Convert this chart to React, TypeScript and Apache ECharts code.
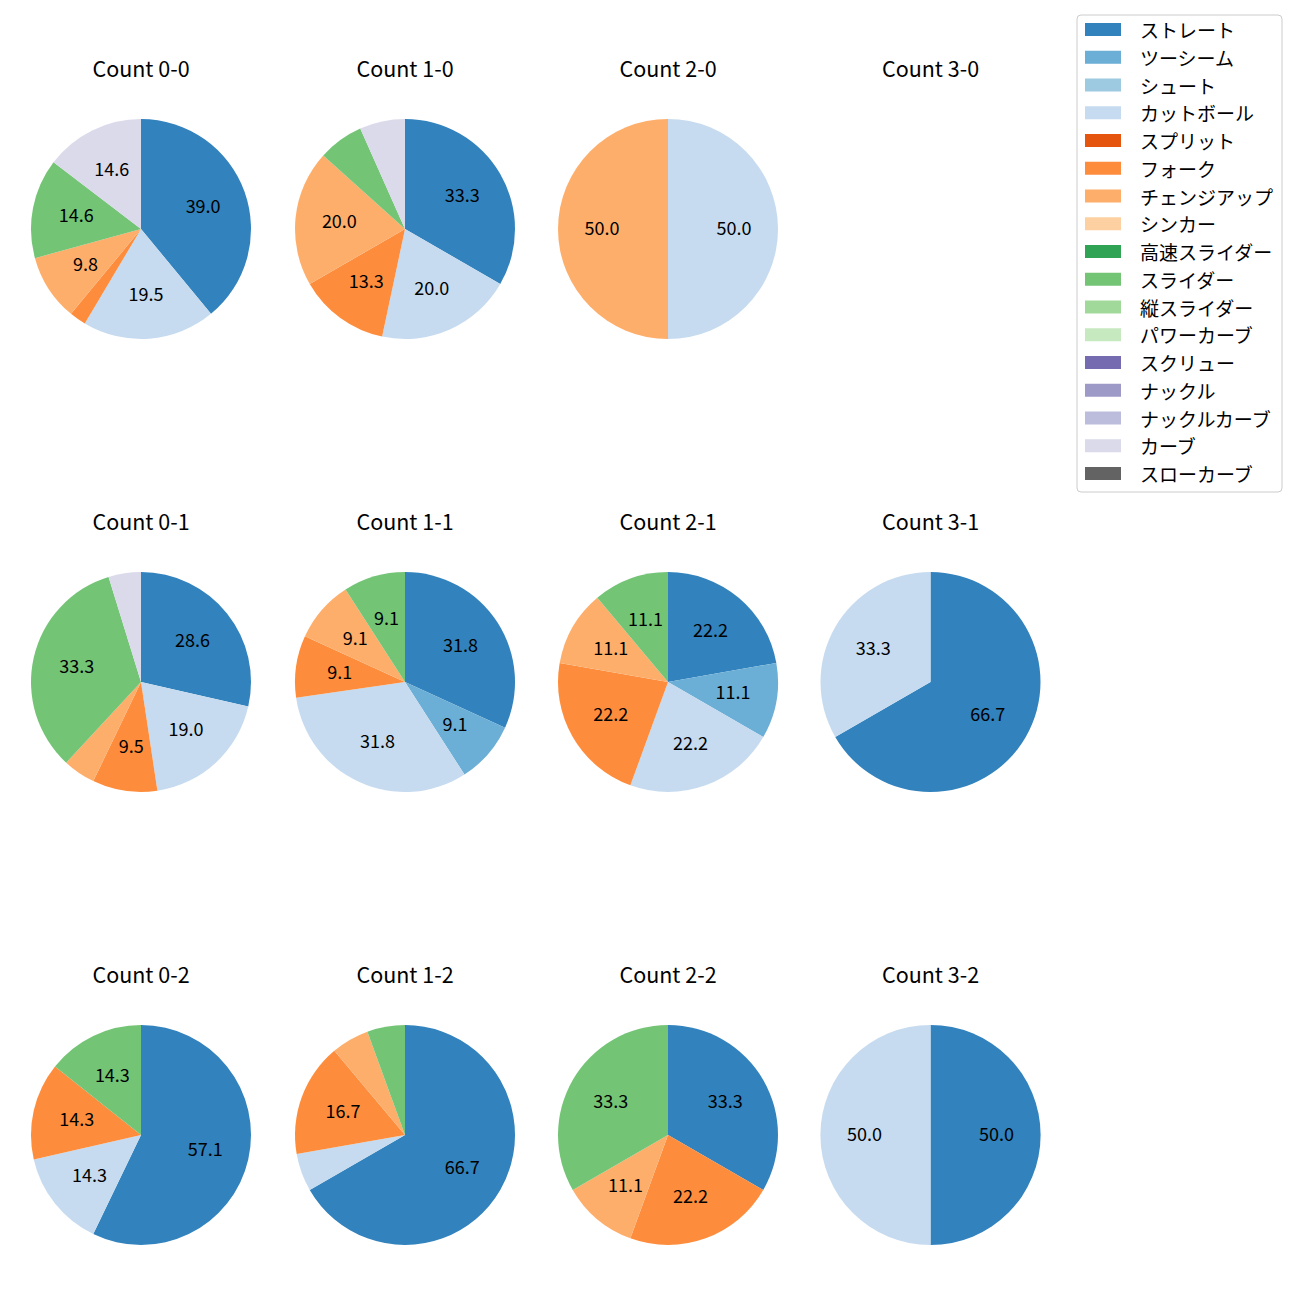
import React, { useEffect, useRef } from "react";
import * as echarts from "echarts";

const FONT = '"Noto Sans CJK JP", "Noto Sans", sans-serif';

const pitchTypes = [
  "ストレート", "ツーシーム", "シュート", "カットボール", "スプリット", "フォーク",
  "チェンジアップ", "シンカー", "高速スライダー", "スライダー", "縦スライダー",
  "パワーカーブ", "スクリュー", "ナックル", "ナックルカーブ", "カーブ", "スローカーブ",
];
const pitchColors = [
  "#3182bd", "#6baed6", "#9ecae1", "#c6dbef", "#e6550d", "#fd8d3c",
  "#fdae6b", "#fdd0a2", "#31a354", "#74c476", "#a1d99b",
  "#c7e9c0", "#756bb1", "#9e9ac8", "#bcbddc", "#dadaeb", "#636363",
];

const countTitles = [
  "Count 0-0", "Count 1-0", "Count 2-0", "Count 3-0",
  "Count 0-1", "Count 1-1", "Count 2-1", "Count 3-1",
  "Count 0-2", "Count 1-2", "Count 2-2", "Count 3-2",
];

// pitch counts per situation, aligned with pitchTypes
const count00 = [16, 0, 0, 8, 0, 1, 4, 0, 0, 6, 0, 0, 0, 0, 0, 6, 0];
const count10 = [5, 0, 0, 3, 0, 2, 3, 0, 0, 1, 0, 0, 0, 0, 0, 1, 0];
const count20 = [0, 0, 0, 1, 0, 0, 1, 0, 0, 0, 0, 0, 0, 0, 0, 0, 0];
const count30 = [0, 0, 0, 0, 0, 0, 0, 0, 0, 0, 0, 0, 0, 0, 0, 0, 0];
const count01 = [6, 0, 0, 4, 0, 2, 1, 0, 0, 7, 0, 0, 0, 0, 0, 1, 0];
const count11 = [7, 2, 0, 7, 0, 2, 2, 0, 0, 2, 0, 0, 0, 0, 0, 0, 0];
const count21 = [2, 1, 0, 2, 0, 2, 1, 0, 0, 1, 0, 0, 0, 0, 0, 0, 0];
const count31 = [2, 0, 0, 1, 0, 0, 0, 0, 0, 0, 0, 0, 0, 0, 0, 0, 0];
const count02 = [4, 0, 0, 1, 0, 1, 0, 0, 0, 1, 0, 0, 0, 0, 0, 0, 0];
const count12 = [12, 0, 0, 1, 0, 3, 1, 0, 0, 1, 0, 0, 0, 0, 0, 0, 0];
const count22 = [3, 0, 0, 0, 0, 2, 1, 0, 0, 3, 0, 0, 0, 0, 0, 0, 0];
const count32 = [1, 0, 0, 1, 0, 0, 0, 0, 0, 0, 0, 0, 0, 0, 0, 0, 0];

const allCounts = [
  count00, count10, count20, count30,
  count01, count11, count21, count31,
  count02, count12, count22, count32,
];

const colX = [141, 405, 668, 930.5];
const rowY = [229, 682, 1135];
const R = 110;

export default function App() {
  const ref = useRef<HTMLDivElement>(null);
  useEffect(() => {
    if (!ref.current) return;
    const chart = echarts.init(ref.current, undefined, { renderer: "svg" });
    const series: any[] = [
      {
        type: "pie",
        name: "legendSource",
        radius: 0,
        center: [-200, -200],
        silent: true,
        label: { show: false },
        labelLine: { show: false },
        data: pitchTypes.map((n, i) => ({ name: n, value: 1, itemStyle: { color: pitchColors[i] } })),
      },
    ];
    allCounts.forEach((vals, k) => {
      const total = vals.reduce((a, b) => a + b, 0);
      if (total === 0) return;
      const row = Math.floor(k / 4);
      const col = k % 4;
      const data = pitchTypes
        .map((n, i) => ({ name: n, value: vals[i], itemStyle: { color: pitchColors[i] } }))
        .filter((d) => d.value > 0);
      series.push({
        type: "pie",
        center: [colX[col], rowY[row]],
        radius: R,
        startAngle: 90,
        clockwise: true,
        silent: true,
        avoidLabelOverlap: false,
        label: { show: false },
        labelLine: { show: false },
        emphasis: { disabled: true },
        data,
      });
      series.push({
        type: "pie",
        center: [colX[col], rowY[row]],
        radius: [16, R],
        startAngle: 90,
        clockwise: true,
        silent: true,
        avoidLabelOverlap: false,
        itemStyle: { color: "transparent" },
        labelLine: { show: false },
        emphasis: { disabled: true },
        labelLayout: { dy: -2 },
        label: {
          show: true,
          position: "inside",
          color: "#000",
          fontSize: 18,
          fontFamily: FONT,
          formatter: (p: any) => {
            const pct = (p.value / total) * 100;
            return pct >= 8 ? pct.toFixed(1) : "";
          },
        },
        data: data.map((d) => ({ name: d.name, value: d.value })),
      });
    });

    const graphic = countTitles.map((t, k) => ({
      type: "text",
      x: colX[k % 4],
      y: rowY[Math.floor(k / 4)] - 162,
      silent: true,
      style: {
        text: t,
        fontSize: 21.5,
        fontFamily: FONT,
        fill: "#000",
        align: "center",
        verticalAlign: "middle",
        textAlign: "center",
        textVerticalAlign: "middle",
      },
    }));

    chart.setOption({
      animation: false,
      backgroundColor: "#ffffff",
      legend: {
        data: pitchTypes,
        orient: "vertical",
        left: 1077,
        top: 15,
        icon: "rect",
        itemWidth: 36,
        itemHeight: 13,
        itemGap: 8.75,
        padding: [5, 9, 9, 8],
        borderColor: "#cccccc",
        borderWidth: 1,
        borderRadius: 4,
        backgroundColor: "rgba(255,255,255,0.8)",
        selectedMode: false,
        textStyle: {
          fontSize: 19,
          fontFamily: FONT,
          color: "#000",
          lineHeight: 19,
          padding: [0, 0, 0, 14],
        },
      },
      graphic,
      series,
    });
    return () => chart.dispose();
  }, []);
  return (
    <div
      ref={ref}
      style={{ position: "fixed", left: 0, top: 0, width: 1300, height: 1300 }}
    />
  );
}
